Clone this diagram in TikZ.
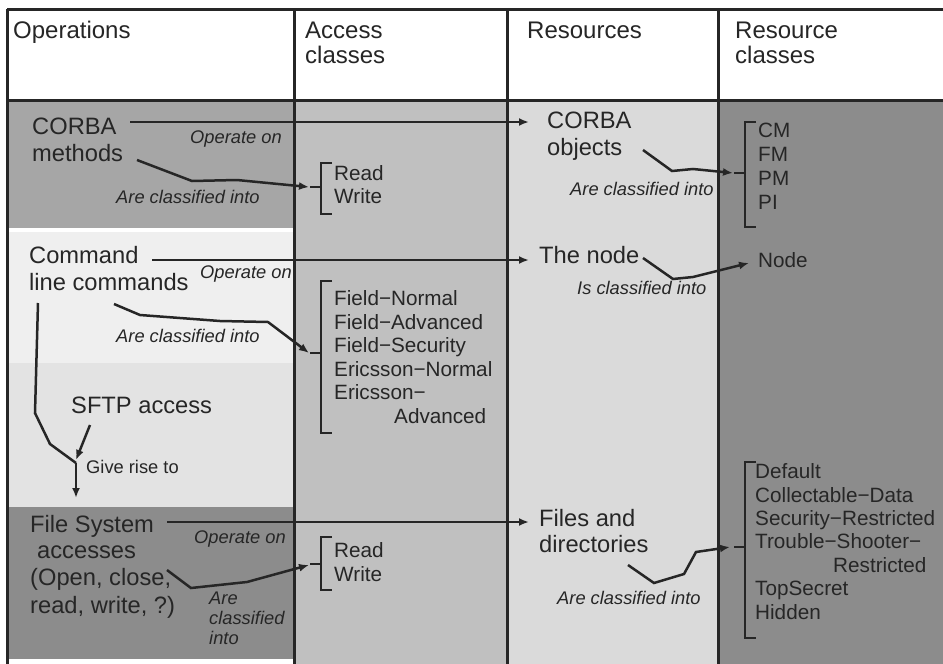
\documentclass[tikz,border=0pt]{standalone}
\usepackage{fontspec}
\setmainfont{Liberation Sans}
\usetikzlibrary{arrows.meta,calc}
\definecolor{ink}{HTML}{262626}
\definecolor{opsA}{HTML}{A6A6A6}
\definecolor{opsB}{HTML}{EFEFEF}
\definecolor{opsC}{HTML}{E3E3E3}
\definecolor{opsD}{HTML}{8C8C8C}
\definecolor{accbg}{HTML}{C0C0C0}
\definecolor{resbg}{HTML}{DADADA}
\definecolor{rcbg}{HTML}{8C8C8C}
\begin{document}
\begin{tikzpicture}[x=1pt,y=-1pt,
  every node/.style={inner sep=0pt, anchor=base west, text=ink},
  hdr/.style={font=\fontsize{24}{26}\selectfont},
  big/.style={font=\fontsize{23.7}{27}\selectfont},
  item/.style={font=\fontsize{20.7}{24}\selectfont},
  lbl/.style={font=\fontsize{18.3}{20}\selectfont\itshape},
  small/.style={font=\fontsize{18.3}{20}\selectfont},
  rel/.style={draw=ink, line width=2.5pt, -{Latex[length=10pt,width=8pt]}},
  link/.style={draw=ink, line width=2.5pt},
  brk/.style={draw=ink, line width=2pt},
  rule/.style={draw=ink, line width=3pt}]
\useasboundingbox (0,0) rectangle (943,664);

% ---- column backgrounds ----
\fill[white] (0,0) rectangle (943,664);
\fill[opsA] (7,100) rectangle (294,228);
\fill[opsB] (7,232) rectangle (294,363);
\fill[opsC] (7,363) rectangle (294,507);
\fill[opsD] (7,507) rectangle (294,659);
\fill[accbg] (294,100) rectangle (507,664);
\fill[resbg] (507,100) rectangle (718,664);
\fill[rcbg] (718,100) rectangle (943,664);

% ---- table rules ----
\draw[rule] (7,9) -- (943,9);
\draw[rule] (7,100) -- (943,100);
\draw[rule] (7,9) -- (7,664);
\draw[rule] (294,9) -- (294,664);
\draw[rule] (507,9) -- (507,664);
\draw[rule] (718,9) -- (718,664);

% ---- headers ----
\node[hdr] (hops) at (13,38) {Operations};
\node[hdr] (hacc1) at (305,38) {Access};
\node[hdr] (hacc2) at (305,63) {classes};
\node[hdr] (hres) at (527,38) {Resources};
\node[hdr] (hrc1) at (735,38) {Resource};
\node[hdr] (hrc2) at (735,63) {classes};

% ---- CORBA row ----
\node[big] (corba) at (32,134) {CORBA};
\node[big] (methods) at (32,161) {methods};
\node[lbl] (op1) at (190,143) {Operate on};
\node[lbl] (cl1) at (116,203) {Are classified into};
\node[item] (rw1a) at (334,180) {Read};
\node[item] (rw1b) at (334,203) {Write};
\node[big] (cobj1) at (547,128) {CORBA};
\node[big] (cobj2) at (547,155) {objects};
\node[lbl] (cl2) at (570,195) {Are classified into};
\node[item] (cm) at (758,137) {CM};
\node[item] (fm) at (758,161) {FM};
\node[item] (pm) at (758,185) {PM};
\node[item] (pi) at (758,209) {PI};

\coordinate (b1) at (321,187);
\draw[brk] (332,163) -- (321,163) -- (321,214) -- (332,214);
\draw[brk] (310,187) -- (b1);
\coordinate (b2) at (745,173);
\draw[brk] (756,122) -- (745,122) -- (745,227) -- (756,227);
\draw[brk] (734,173) -- (b2);

\coordinate (s1) at (130,122);
\coordinate (e1) at (529,122);
\draw[rel] (s1) -- (e1);
\coordinate (s2) at (137,160);
\draw[rel] (s2) -- (192,181) -- (237,180) -- ($(b1)+(-12,0)$);
\coordinate (s3) at (643,150);
\draw[rel] (s3) -- (672,171) -- (693,169) -- ($(b2)+(-12,0)$);

% ---- command line row ----
\node[big] (cmd1) at (29,263) {Command};
\node[big] (cmd2) at (29,290) {line commands};
\node[lbl] (op2) at (200,278) {Operate on};
\node[lbl] (cl3) at (116,342) {Are classified into};
\node[item] (fn) at (334,305) {Field−Normal};
\node[item] (fa) at (334,329) {Field−Advanced};
\node[item] (fsec) at (334,352) {Field−Security};
\node[item] (en) at (334,376) {Ericsson−Normal};
\node[item] (ea1) at (334,399) {Ericsson−};
\node[item] (ea2) at (394,423) {Advanced};
\node[big] (thenode) at (539,263) {The node};
\node[lbl] (cl4) at (577,294) {Is classified into};
\node[item] (node) at (758,267) {Node};

\coordinate (b3) at (321,353);
\draw[brk] (332,281) -- (321,281) -- (321,433) -- (332,433);
\draw[brk] (310,353) -- (b3);

\coordinate (s4) at (152,260);
\coordinate (e4) at (529,260);
\draw[rel] (s4) -- (e4);
\coordinate (s5) at (114,304);
\draw[rel] (s5) -- (140,315) -- (220,321) -- (268,322) -- ($(b3)+(-12,0)$);
\coordinate (s6) at (643,258);
\coordinate (e6) at (749,263);
\draw[rel] (s6) -- (673,279) -- (693,277) -- (e6);

% ---- SFTP ----
\node[big] (sftp) at (71,413) {SFTP access};
\node[small] (give) at (86,473) {Give rise to};
\coordinate (cmdfoot) at (38,303);
\coordinate (join) at (76,463);
\coordinate (sftpfoot) at (90,425);
\coordinate (fsTop) at (76,498);
\draw[link] (cmdfoot) -- (35,413) -- (50,444) -- (join);
\draw[rel] (sftpfoot) -- ($(join)+(0,-3)$);
\draw[rel] (join) -- (fsTop);

% ---- file system row ----
\node[big] (fs1) at (30,532) {File System};
\node[big] (fs2) at (37,558) {accesses};
\node[big] (fs3) at (30,585) {(Open, close,};
\node[big] (fs4) at (30,613) {read, write, ?)};
\node[lbl] (op3) at (194,543) {Operate on};
\node[lbl] (cl5a) at (209,604) {Are};
\node[lbl] (cl5b) at (209,624) {classified};
\node[lbl] (cl5c) at (209,644) {into};
\node[item] (rw2a) at (334,557) {Read};
\node[item] (rw2b) at (334,581) {Write};
\node[big] (files1) at (539,526) {Files and};
\node[big] (files2) at (539,552) {directories};
\node[lbl] (cl6) at (557,604) {Are classified into};
\node[item] (d1) at (755,478) {Default};
\node[item] (d2) at (755,502) {Collectable−Data};
\node[item] (d3) at (755,525) {Security−Restricted};
\node[item] (d4) at (755,548) {Trouble−Shooter−};
\node[item] (d5) at (833,572) {Restricted};
\node[item] (d6) at (755,595) {TopSecret};
\node[item] (d7) at (755,619) {Hidden};

\coordinate (b4) at (321,564);
\draw[brk] (332,537) -- (321,537) -- (321,590) -- (332,590);
\draw[brk] (310,564) -- (b4);
\coordinate (b5) at (745,547);
\draw[brk] (756,462) -- (745,462) -- (745,638) -- (756,638);
\draw[brk] (734,547) -- (b5);

\coordinate (s7) at (167,522);
\coordinate (e7) at (529,522);
\draw[rel] (s7) -- (e7);
\coordinate (s8) at (167,570);
\draw[rel] (s8) -- (191,588) -- (247,582) -- ($(b4)+(-12,1)$);
\coordinate (s9) at (628,565);
\draw[rel] (s9) -- (654,583) -- (684,574) -- (696,552) -- ($(b5)+(-15,0)$);
\end{tikzpicture}
\end{document}
